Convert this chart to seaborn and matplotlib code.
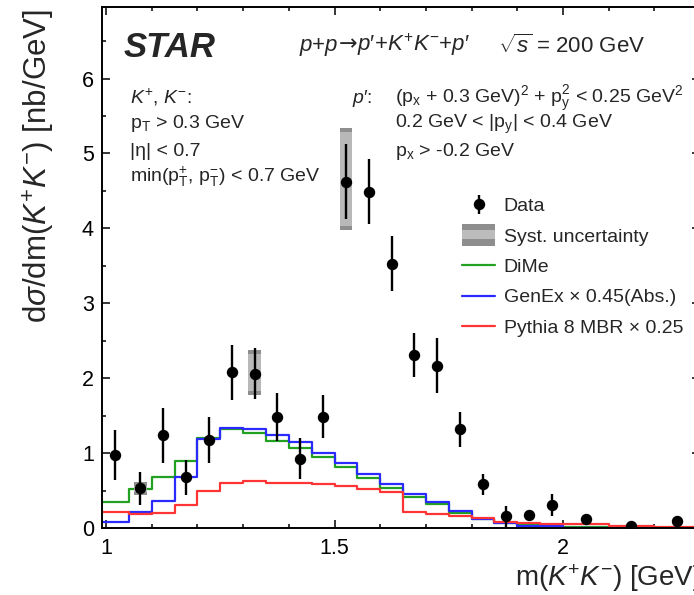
import numpy as np
import pandas as pd
import matplotlib
matplotlib.use("Agg")
import matplotlib.pyplot as plt
import seaborn as sns
from matplotlib.legend_handler import HandlerBase
from matplotlib.patches import Rectangle, Patch
from matplotlib.lines import Line2D
from matplotlib.ticker import MultipleLocator
from matplotlib.offsetbox import TextArea, HPacker, AnchoredOffsetbox

# ---- binning of the K+K- invariant mass [GeV] ----
bin_edges = [0.99, 1.05, 1.10, 1.15, 1.20, 1.25, 1.30, 1.35, 1.40, 1.45, 1.50,
             1.55, 1.60, 1.65, 1.70, 1.75, 1.80, 1.85, 1.90, 1.95, 2.00,
             2.10, 2.20, 2.30]
mass = [1.02, 1.075, 1.125, 1.175, 1.225, 1.275, 1.325, 1.375, 1.425, 1.475,
        1.525, 1.575, 1.625, 1.675, 1.725, 1.775, 1.825, 1.875, 1.925, 1.975,
        2.05, 2.15, 2.25]

# ---- measured cross section [nb/GeV] ----
xsec = [0.98, 0.535, 1.24, 0.68, 1.18, 2.08, 2.06, 1.49, 0.93, 1.49,
        4.62, 4.49, 3.53, 2.31, 2.17, 1.32, 0.59, 0.16, 0.18, 0.31,
        0.12, 0.03, 0.10]
stat_err = [0.33, 0.22, 0.37, 0.23, 0.31, 0.37, 0.34, 0.32, 0.27, 0.29,
            0.50, 0.43, 0.37, 0.29, 0.37, 0.23, 0.14, 0.14, 0.06, 0.15,
            0.03, 0.02, 0.05]

# systematic bands large enough to show beside the markers
syst_mass = [1.075, 1.325, 1.525]
syst_low = [0.44, 1.78, 3.98]
syst_high = [0.62, 2.38, 5.34]

# ---- model predictions [nb/GeV], one value per bin ----
dime = [0.357, 0.53, 0.69, 0.90, 1.20, 1.33, 1.27, 1.17, 1.07, 0.955,
        0.82, 0.67, 0.535, 0.42, 0.32, 0.21, 0.12, 0.07, 0.045, 0.03,
        0.015, 0.005, 0.002]
genex = [0.08, 0.22, 0.36, 0.69, 1.19, 1.34, 1.33, 1.24, 1.155, 1.01,
         0.87, 0.72, 0.59, 0.455, 0.357, 0.237, 0.13, 0.07, 0.035, 0.025,
         0.01, 0.005, 0.002]
pythia = [0.22, 0.19, 0.20, 0.31, 0.50, 0.60, 0.63, 0.61, 0.60, 0.59,
          0.565, 0.525, 0.48, 0.215, 0.19, 0.16, 0.135, 0.09, 0.07, 0.06,
          0.055, 0.03, 0.02]

model_labels = ["DiMe", "GenEx × 0.45(Abs.)", "Pythia 8 MBR × 0.25"]
model_colors = ["#22a022", "#2a2aff", "#ff3434"]

sns.set_theme(style="ticks")
plt.rcParams["font.family"] = ["Liberation Sans", "DejaVu Sans"]
plt.rcParams["mathtext.fontset"] = "custom"
plt.rcParams["mathtext.rm"] = "Liberation Sans"
plt.rcParams["mathtext.it"] = "Liberation Sans:italic"
plt.rcParams["mathtext.bf"] = "Liberation Sans:bold"
plt.rcParams["mathtext.sf"] = "Liberation Sans"

W, H = 694, 595
fig = plt.figure(figsize=(W / 100, H / 100), dpi=100)
ax = fig.add_axes([101.5 / W, 1 - 528.3 / H, 598.5 / W, 521 / H])


def fx(px):
    return px / W


def fy(py):
    return 1 - py / H


models = pd.DataFrame({"mass": mass, "DiMe": dime, "GenEx": genex, "Pythia": pythia})
for col, color in zip(["DiMe", "GenEx", "Pythia"], model_colors):
    sns.histplot(data=models, x="mass", weights=col, bins=bin_edges,
                 element="step", fill=False, color=color, linewidth=1.6,
                 ax=ax, zorder=2)

# systematic boxes: light body with darker caps
box_w = 0.0275
cap = 0.05
syst_height = [h - l for l, h in zip(syst_low, syst_high)]
ax.bar(syst_mass, syst_height, bottom=syst_low, width=box_w,
       color="#b8b8b8", edgecolor="none", zorder=3)
ax.bar(syst_mass, [cap] * len(syst_mass), bottom=syst_low, width=box_w,
       color="#8e8e8e", edgecolor="none", zorder=3)
ax.bar(syst_mass, [cap] * len(syst_mass),
       bottom=[h - cap for h in syst_high], width=box_w,
       color="#8e8e8e", edgecolor="none", zorder=3)

data_handle = ax.errorbar(mass, xsec, yerr=stat_err, fmt="o", color="black",
                          ms=7.2, elinewidth=1.7, capsize=0, zorder=5)

ax.set_xlim(0.99, 2.30)
ax.set_ylim(0, 6.95)
ax.xaxis.set_major_locator(MultipleLocator(0.5))
ax.xaxis.set_minor_locator(MultipleLocator(0.1))
ax.yaxis.set_major_locator(MultipleLocator(1))
ax.yaxis.set_minor_locator(MultipleLocator(0.5))
ax.set_xticks([1.0, 1.5, 2.0])
ax.set_xticklabels(["1", "1.5", "2"])
ax.tick_params(which="both", direction="in", top=True, right=True,
               labelsize=15.5, color="black", labelcolor="black")
ax.tick_params(which="major", length=5.8, width=1.1)
ax.tick_params(which="minor", length=2.9, width=1.1)
ax.tick_params(axis="x", pad=7)
ax.tick_params(axis="y", pad=5.5)
for sp in ax.spines.values():
    sp.set_linewidth(1.4)
    sp.set_color("black")

ax.set_xlabel(r"m($K^{+}K^{-}$) [GeV]", fontsize=20)
ax.xaxis.set_label_coords(1.0, (528.3 - 578) / 521)
ax.xaxis.label.set_ha("right")
ax.xaxis.label.set_va("center")
ax.set_ylabel(r"d$\sigma$/dm($K^{+}K^{-}$) [nb/GeV]", fontsize=22.5)
ax.yaxis.label.set_rotation_mode("default")
ax.yaxis.label.set_ha("center")
ax.yaxis.label.set_va("top")
ax.yaxis.set_label_coords((39 - 101.5) / 598.5, (528.3 - 9) / 521)


class SystHandler(HandlerBase):
    def create_artists(self, legend, orig_handle, xdescent, ydescent,
                       width, height, fontsize, trans):
        h = height * 1.6
        y0 = -ydescent + (height - h) / 2
        band = h * 0.3
        body = Rectangle((-xdescent, y0), width, h, facecolor="#bcbcbc",
                         edgecolor="none", transform=trans)
        low = Rectangle((-xdescent, y0), width, band, facecolor="#8e8e8e",
                        edgecolor="none", transform=trans)
        high = Rectangle((-xdescent, y0 + h - band), width, band,
                         facecolor="#8e8e8e", edgecolor="none", transform=trans)
        return [body, low, high]


syst_handle = Patch(facecolor="#b8b8b8")
line_handles = [Line2D([], [], color=c, lw=1.6) for c in model_colors]
fig.legend([data_handle, syst_handle] + line_handles,
           ["Data", "Syst. uncertainty"] + model_labels,
           handler_map={Patch: SystHandler()},
           loc="upper left", bbox_to_anchor=(fx(462), fy(197.5)),
           bbox_transform=fig.transFigure, frameon=False, fontsize=14,
           borderpad=0, borderaxespad=0, handlelength=1.7,
           handletextpad=0.45, labelspacing=0.66)

# ---- annotations ----
fig.text(fx(124), fy(56.7), "STAR", fontsize=25, fontweight="bold",
         fontstyle="italic", va="baseline")

# reaction: the arrow glyph comes from DejaVu Sans so it sits on the math axis
head_props = dict(fontsize=16, family=["Liberation Sans", "DejaVu Sans"])
reaction = HPacker(children=[
    TextArea(r"$p$+$p$", textprops=head_props),
    TextArea("→", textprops=dict(fontsize=16, family=["DejaVu Sans"])),
    TextArea(r"$p$′+$K^{+}K^{-}$+$p$′", textprops=head_props),
], align="baseline", pad=0, sep=0)
fig.add_artist(AnchoredOffsetbox(loc="lower left", child=reaction, pad=0,
                                 borderpad=0, frameon=False,
                                 bbox_to_anchor=(fx(299), fy(57.5)),
                                 bbox_transform=fig.transFigure))
fig.text(fx(498), fy(53), r"$\sqrt{s}$ = 200 GeV", fontsize=16, va="baseline")

left_lines = [r"$K^{+}$, $K^{-}$:",
              r"p$_{\mathrm{T}}$ > 0.3 GeV",
              "|η| < 0.7",
              r"min(p$_{\mathrm{T}}^{+}$, p$_{\mathrm{T}}^{-}$) < 0.7 GeV"]
for txt, base in zip(left_lines, [103, 128, 156, 182]):
    fig.text(fx(130), fy(base), txt, fontsize=14, va="baseline")

fig.text(fx(352), fy(103), r"$p$′:", fontsize=14, va="baseline")
right_lines = [r"(p$_{\mathrm{x}}$ + 0.3 GeV)$^{2}$ + p$_{\mathrm{y}}^{2}$ < 0.25 GeV$^{2}$",
               r"0.2 GeV < |p$_{\mathrm{y}}$| < 0.4 GeV",
               r"p$_{\mathrm{x}}$ > -0.2 GeV"]
for txt, base in zip(right_lines, [103, 128, 156]):
    fig.text(fx(395), fy(base), txt, fontsize=14, va="baseline")

fig.savefig("out.png", dpi=100)
